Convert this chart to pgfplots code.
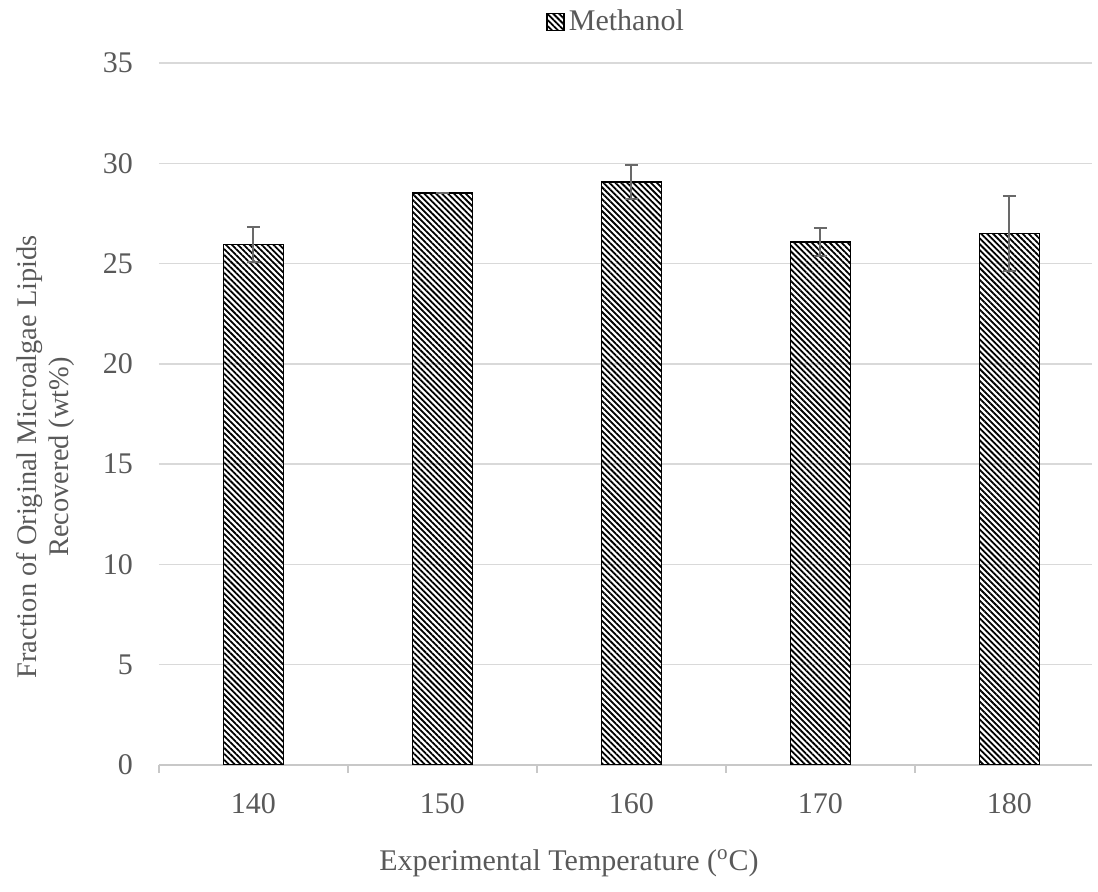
\documentclass[border=0pt]{standalone}
\usepackage{fontspec}
\setmainfont{Liberation Serif}
\usepackage{pgfplots}
\pgfplotsset{compat=1.18}
\usetikzlibrary{patterns.meta}
\definecolor{txt}{RGB}{89,89,89}
\definecolor{gridc}{RGB}{217,217,217}
\definecolor{axl}{RGB}{200,200,200}
\definecolor{errc}{RGB}{105,105,105}

\pgfplotstableread{
x y e
0 25.95 0.85
1 28.52 0.02
2 29.08 0.85
3 26.07 0.70
4 26.50 1.88
}\datatable

\begin{document}
\begin{tikzpicture}
\begin{axis}[
  name=ax,
  width=466.5pt, height=351pt, scale only axis,
  xmin=-0.5, xmax=4.437,
  ymin=0, ymax=35,
  ytick={0,5,...,35},
  xtick={0,1,2,3,4},
  xticklabels={140,150,160,170,180},
  minor xtick={-0.5,0.5,1.5,2.5,3.5},
  major tick length=0pt,
  minor tick length=4pt,
  tick align=outside,
  axis x line*=bottom,
  axis y line*=left,
  y axis line style={draw=none},
  x axis line style={draw=axl, line width=0.75pt, -},
  minor x tick style={draw=axl, line width=0.75pt},
  ymajorgrids,
  grid style={draw=gridc, line width=0.75pt},
  /pgf/number format/assume math mode=true,
  every tick label/.append style={font=\fontsize{15}{18}\selectfont, text=txt},
  x tick label style={anchor=base, yshift=-24.5pt},
  y tick label style={anchor=east, xshift=-9.5pt},
  xlabel={Experimental Temperature (\textsuperscript{o}C)},
  xlabel style={at={(axis description cs:0.4394,0)}, anchor=center, yshift=-49pt, font=\fontsize{15}{18}\selectfont, text=txt},
  ylabel={Fraction of Original Microalgae Lipids\\Recovered (wt\%)},
  ylabel style={at={(axis description cs:-0.1211,0.439)}, anchor=center, align=center, font=\fontsize{14.2}{16}\selectfont, text=txt},
  legend style={at={(axis description cs:0.491,1)}, anchor=center, yshift=20.5pt, draw=none, fill=none, font=\fontsize{15}{18}\selectfont, text=txt, inner sep=0pt},
  legend image code/.code={\draw[#1] (0pt,-4.25pt) rectangle (8.5pt,4.25pt);},
]
\addplot[ybar, bar width=30pt, draw=black, line width=0.8pt,
  pattern={Lines[angle=-45,distance=2.1pt,line width=0.9pt]}]
  table[x=x, y=y] {\datatable};
\addlegendentry{Methanol}
\addplot[forget plot, draw=none, mark=none,
  error bars/.cd, y dir=both, y explicit,
  error bar style={draw=errc, line width=1pt, solid},
  error mark options={draw=errc, line width=1pt, mark size=3.3pt, rotate=90, solid}]
  table[x=x, y=y, y error=e] {\datatable};
\end{axis}
\pgfresetboundingbox
\path[use as bounding box] ([xshift=-79.5pt,yshift=-63.5pt]ax.south west) rectangle ([xshift=3pt,yshift=31.5pt]ax.north east);
\end{tikzpicture}
\end{document}
